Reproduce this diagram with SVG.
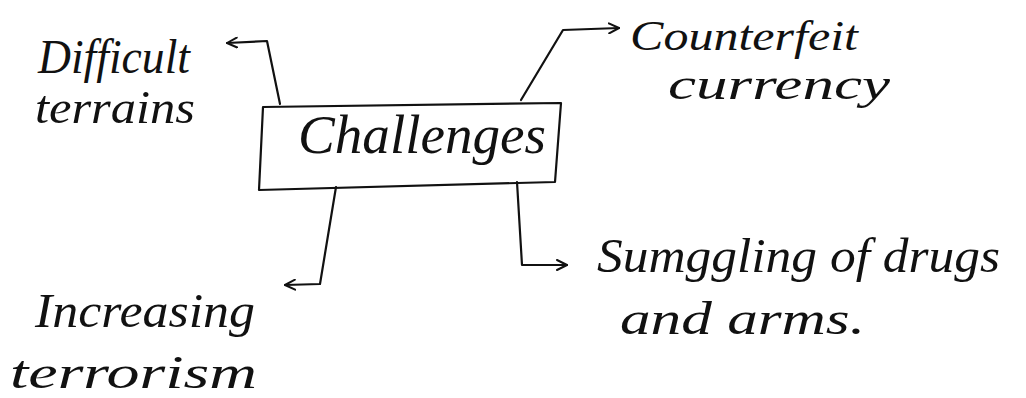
<svg xmlns="http://www.w3.org/2000/svg" width="1026" height="398" viewBox="0 0 1026 398">
<style>
  .ink { fill: none; stroke: #111; stroke-width: 2.2; stroke-linecap: round; stroke-linejoin: round; }
  .hand { font-family: "Liberation Serif", serif; font-style: italic; fill: #111; }
</style>
<defs>
  <marker id="arr" viewBox="0 0 12 12" refX="11" refY="6" markerWidth="12" markerHeight="12" markerUnits="userSpaceOnUse" orient="auto">
    <path d="M1,1 L11,6 L1,11" fill="none" stroke="#111" stroke-width="2" stroke-linecap="round" stroke-linejoin="round"/>
  </marker>
</defs>
<rect width="1026" height="398" fill="#ffffff"/>

<g id="challenges">
  <path class="ink" d="M263,107 L561,103 L555,182 L259,190 Z"/>
  <text class="hand" x="298" y="153" font-size="54" textLength="248" lengthAdjust="spacingAndGlyphs">Challenges</text>
</g>

<g id="difficult-terrains">
  <text class="hand" x="38" y="73" font-size="48" textLength="152" lengthAdjust="spacingAndGlyphs">Difficult</text>
  <text class="hand" x="35" y="123" font-size="46" textLength="160" lengthAdjust="spacingAndGlyphs">terrains</text>
</g>

<g id="counterfeit-currency">
  <text class="hand" x="630" y="50" font-size="42" textLength="228" lengthAdjust="spacingAndGlyphs">Counterfeit</text>
  <text class="hand" x="668" y="99" font-size="44" textLength="222" lengthAdjust="spacingAndGlyphs">currency</text>
</g>

<g id="increasing-terrorism">
  <text class="hand" x="35" y="327" font-size="48" textLength="220" lengthAdjust="spacingAndGlyphs">Increasing</text>
  <text class="hand" x="10" y="388" font-size="46" textLength="247" lengthAdjust="spacingAndGlyphs">terrorism</text>
</g>

<g id="smuggling">
  <text class="hand" x="597" y="272" font-size="48" textLength="403" lengthAdjust="spacingAndGlyphs">Sumggling of drugs</text>
  <text class="hand" x="620" y="334" font-size="46" textLength="245" lengthAdjust="spacingAndGlyphs">and arms.</text>
</g>

<g id="connectors">
  <path class="ink" d="M280,104 L267,41 L227,43" marker-end="url(#arr)"/>
  <path class="ink" d="M521,100 L563,30 L619,28" marker-end="url(#arr)"/>
  <path class="ink" d="M336,187 L320,284 L285,285" marker-end="url(#arr)"/>
  <path class="ink" d="M517,182 L522,265 L567,265" marker-end="url(#arr)"/>
</g>
</svg>
